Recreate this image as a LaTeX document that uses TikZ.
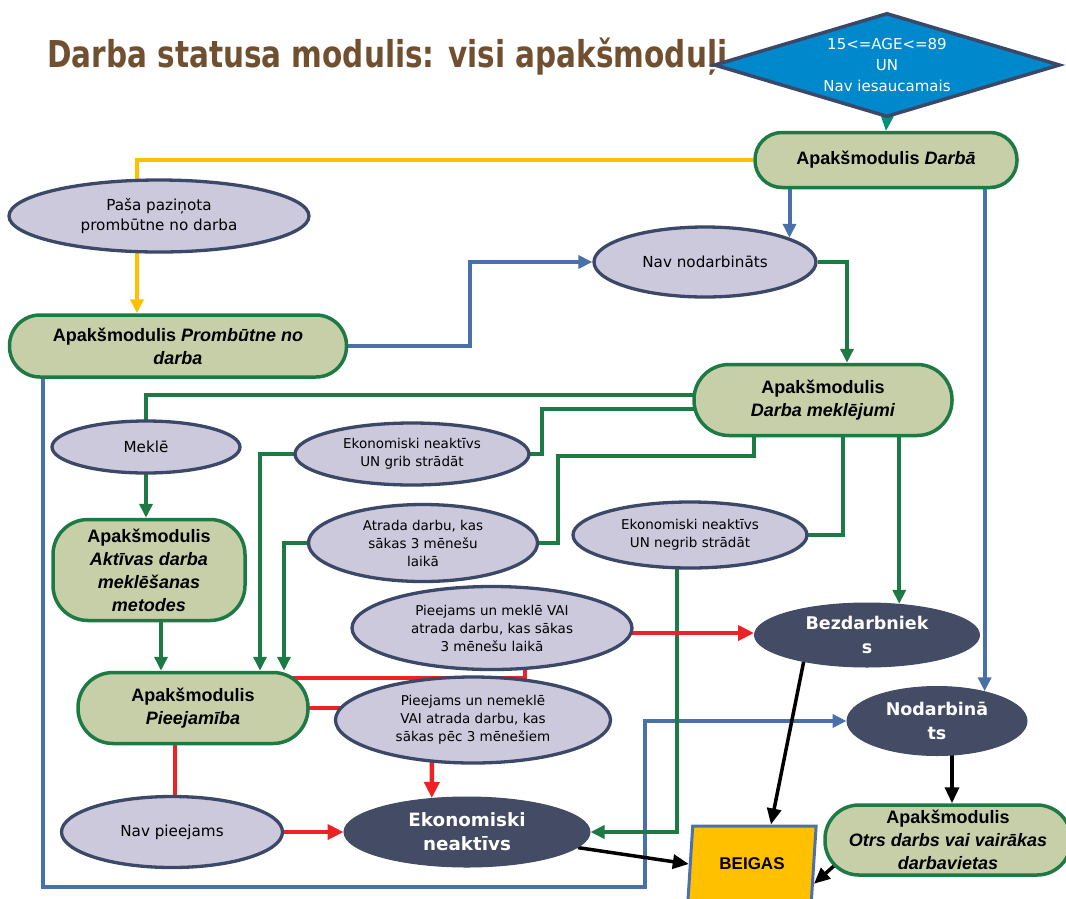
\documentclass[tikz,border=0pt]{standalone}
\usepackage{graphicx}
\usepackage{fontspec}
\setmainfont{DejaVu Sans}
\newfontfamily\arialf{Liberation Sans}
\usetikzlibrary{shapes.geometric,shapes.misc,arrows.meta,backgrounds,calc}
\definecolor{titlebrown}{RGB}{112,80,48}
\definecolor{diafill}{RGB}{0,136,204}
\definecolor{slateline}{RGB}{60,72,104}
\definecolor{sage}{RGB}{198,207,168}
\definecolor{modgreen}{RGB}{30,122,68}
\definecolor{lav}{RGB}{204,201,221}
\definecolor{darkov}{RGB}{67,75,101}
\definecolor{flowblue}{RGB}{74,112,170}
\definecolor{flowred}{RGB}{238,34,36}
\definecolor{flowyel}{RGB}{255,192,0}
\definecolor{tealtip}{RGB}{0,146,120}
\definecolor{beigasblue}{RGB}{74,112,176}
\begin{document}
\begin{tikzpicture}[x=1pt,y=-1pt,
  module/.style={rectangle, draw=modgreen, fill=sage, line width=3.5pt, inner sep=0pt, align=center,
    font=\arialf\bfseries\fontsize{18}{23}\selectfont},
  greyoval/.style={ellipse, draw=slateline, fill=lav, line width=3.3pt, inner sep=0pt, align=center,
    font=\fontsize{13.5}{18}\selectfont},
  bigtext/.style={font=\fontsize{15.2}{20}\selectfont},
  darkoval/.style={ellipse, fill=darkov, draw=darkov, line width=1pt, inner sep=0pt, align=center, text=white,
    font=\bfseries\fontsize{17.5}{23.5}\selectfont},
  arrowhd/.style={-{Triangle[length=14pt,width=13pt]}},
  grnline/.style={draw=modgreen, line width=4pt},
  grnarrow/.style={grnline, arrowhd},
  bluearrow/.style={draw=flowblue, line width=4pt, arrowhd},
  redline/.style={draw=flowred, line width=4.5pt},
  redarrow/.style={redline, -{Triangle[length=16pt,width=15pt]}},
  yelarrow/.style={draw=flowyel, line width=4.5pt, arrowhd},
  blkarrow/.style={draw=black, line width=3.5pt, -{Triangle[length=16pt,width=14pt]}},
  tealarrow/.style={draw=tealtip, line width=1pt, -{Triangle[length=15pt,width=13pt]}}
]
\useasboundingbox (0,0) rectangle (1066,898);

% title
\node[anchor=base west, text=titlebrown, inner sep=0pt] (title) at (47,67)
  {\resizebox{680pt}{\height}{\fontsize{37}{40}\selectfont\bfseries Darba statusa modulis: visi apakšmoduļi}};

% nodes
\node[diamond, shape aspect=3.3, draw=slateline, line width=3.5pt, fill=diafill, text=white,
  minimum width=346pt, minimum height=104pt, inner sep=0pt, align=center,
  font=\fontsize{15}{21}\selectfont] (diam) at (887,65) {15<=AGE<=89\\UN\\Nav iesaucamais};

\node[module, minimum width=262pt, minimum height=55pt, rounded corners=27pt] (darba) at (886,160)
  {Apakšmodulis \textit{Darbā}};
\node[greyoval, bigtext, minimum width=300pt, minimum height=72pt] (pasa) at (159,216)
  {Paša paziņota\\prombūtne no darba};
\node[greyoval, bigtext, minimum width=222pt, minimum height=70pt] (navn) at (705,262) {Nav nodarbināts};
\node[module, minimum width=337pt, minimum height=62pt, rounded corners=30.5pt] (promb) at (178,346)
  {Apakšmodulis \textit{Prombūtne no}\\\textit{darba}};
\node[module, minimum width=258pt, minimum height=71pt, rounded corners=35pt] (dm) at (823,400)
  {Apakšmodulis\\\textit{Darba meklējumi}};
\node[greyoval, bigtext, minimum width=188pt, minimum height=52pt] (mekle) at (146,447) {Meklē};
\node[greyoval, minimum width=234pt, minimum height=62pt] (grib) at (412,454)
  {Ekonomiski neaktīvs\\UN grib strādāt};
\node[greyoval, minimum width=229pt, minimum height=77pt] (atr) at (423,543)
  {Atrada darbu, kas\\sākas 3 mēnešu\\laikā};
\node[greyoval, minimum width=234pt, minimum height=66pt] (negrib) at (690,535)
  {Ekonomiski neaktīvs\\UN negrib strādāt};
\node[module, minimum width=192pt, minimum height=101pt, rounded corners=35pt] (akt) at (149,570)
  {Apakšmodulis\\\textit{Aktīvas darba}\\\textit{meklēšanas}\\\textit{metodes}};
\node[greyoval, minimum width=280pt, minimum height=83pt] (pmek) at (492,628)
  {Pieejams un meklē VAI\\atrada darbu, kas sākas\\3 mēnešu laikā};
\node[darkoval, minimum width=225pt, minimum height=64pt] (bezd) at (867,635) {Bezdarbniek\\s};
\node[module, minimum width=230pt, minimum height=71pt, rounded corners=35pt] (piee) at (193,708)
  {Apakšmodulis\\\textit{Pieejamība}};
\node[greyoval, minimum width=275pt, minimum height=86pt] (nemk) at (473,720)
  {Pieejams un nemeklē\\VAI atrada darbu, kas\\sākas pēc 3 mēnešiem};
\node[darkoval, minimum width=180pt, minimum height=69pt] (nodb) at (937,721) {Nodarbinā\\ts};
\node[greyoval, bigtext, minimum width=221pt, minimum height=71pt] (navp) at (172,832) {Nav pieejams};
\node[darkoval, minimum width=246pt, minimum height=70pt, font=\bfseries\fontsize{18.3}{24}\selectfont] (ekon) at (467,832) {Ekonomiski\\neaktīvs};
\node[trapezium, trapezium left angle=77.5, trapezium right angle=102.5, trapezium stretches=true,
  minimum width=129pt, minimum height=76pt, fill=flowyel, draw=beigasblue, line width=3pt, inner sep=0pt,
  font=\arialf\bfseries\fontsize{17}{20}\selectfont] (beigas) at (752,864) {BEIGAS};
\node[module, minimum width=246pt, minimum height=70pt, rounded corners=34pt] (otrs) at (948,840)
  {Apakšmodulis\\\textit{Otrs darbs vai vairākas}\\\textit{darbavietas}};

% helper coordinates
\coordinate (X137) at (137,0);
\coordinate (X470) at (470,0);
\coordinate (X43) at (43,0);
\coordinate (X645) at (645,0);
\coordinate (Y887) at (0,887);
\coordinate (X847) at (847,0);
\coordinate (Y395) at (0,395);
\coordinate (Y409) at (0,409);
\coordinate (X542) at (542,0);
\coordinate (X260) at (260,0);
\coordinate (X284) at (284,0);
\coordinate (X754) at (754,0);
\coordinate (Y456) at (0,456);
\coordinate (X558) at (558,0);
\coordinate (X843) at (843,0);
\coordinate (X677) at (677,0);
\coordinate (X161) at (161,0);
\coordinate (Y633) at (0,633);
\coordinate (Y678) at (0,678);
\coordinate (X525) at (525,0);
\coordinate (X432) at (432,0);
\coordinate (X175) at (175,0);
\coordinate (X771) at (771,0);
\coordinate (X952) at (952,0);

\begin{pgfonlayer}{background}
\fill[white] (0,0) rectangle (1066,898);
% teal
\draw[tealarrow] (diam.south) -- (darba.north);
% yellow
\draw[yelarrow] (darba.west) -| (X137 |- promb.north);
% blue
\draw[bluearrow] (navn.16.9 |- darba.south) -- (navn.16.9);
\draw[bluearrow] (nodb.32.8 |- darba.south) -- (nodb.32.8);
\draw[bluearrow] (promb.east) -| (X470 |- navn.west) -- (navn.west);
\draw[bluearrow] (X43 |- promb.center) |- (X645 |- Y887) |- (nodb.west);
% green
\draw[grnarrow] (navn.east) -| (X847 |- dm.north);
\draw[grnline] (dm.center |- Y395) -| (mekle.center);
\draw[grnline] (dm.center |- Y409) -| (X542 |- grib.east) -- (grib.center);
\draw[grnarrow] (grib.center) -| (X260 |- piee.north);
\draw[grnline] (X754 |- dm.center) |- (X558 |- Y456) |- (atr.center);
\draw[grnarrow] (atr.center) -| (X284 |- piee.north);
\draw[grnline] (X843 |- dm.center) |- (negrib.center);
\draw[grnarrow] (X677 |- negrib.center) |- (ekon.east);
\draw[grnarrow] (bezd.44.8 |- dm.center) -- (bezd.44.8);
\draw[grnarrow] (mekle.center) -- (mekle.center |- akt.north);
\draw[grnarrow] (X161 |- akt.center) -- (X161 |- piee.north);
% red
\draw[redarrow] (pmek.center |- Y633) -- (bezd.west |- Y633);
\draw[redline] (piee.center |- Y678) -| (X525 |- pmek.center);
\draw[redline] (piee.center) -- (nemk.center |- piee.center);
\draw[redarrow] (X432 |- nemk.center) -- (ekon.136.2);
\draw[redline] (X175 |- piee.center) -- (X175 |- navp.center);
\draw[redarrow] (navp.center) -- (ekon.west);
% black
\draw[blkarrow] (ekon.-8) -- (beigas.west);
\draw[blkarrow] (bezd.203.5) -- (X771 |- beigas.north);
\draw[blkarrow] (X952 |- nodb.center) -- (X952 |- otrs.north);
\draw[blkarrow] ($(otrs.south west)+(12,-12)$) -- ($(beigas.east)!0.5!(beigas.bottom right corner)$);
\end{pgfonlayer}
\end{tikzpicture}
\end{document}
